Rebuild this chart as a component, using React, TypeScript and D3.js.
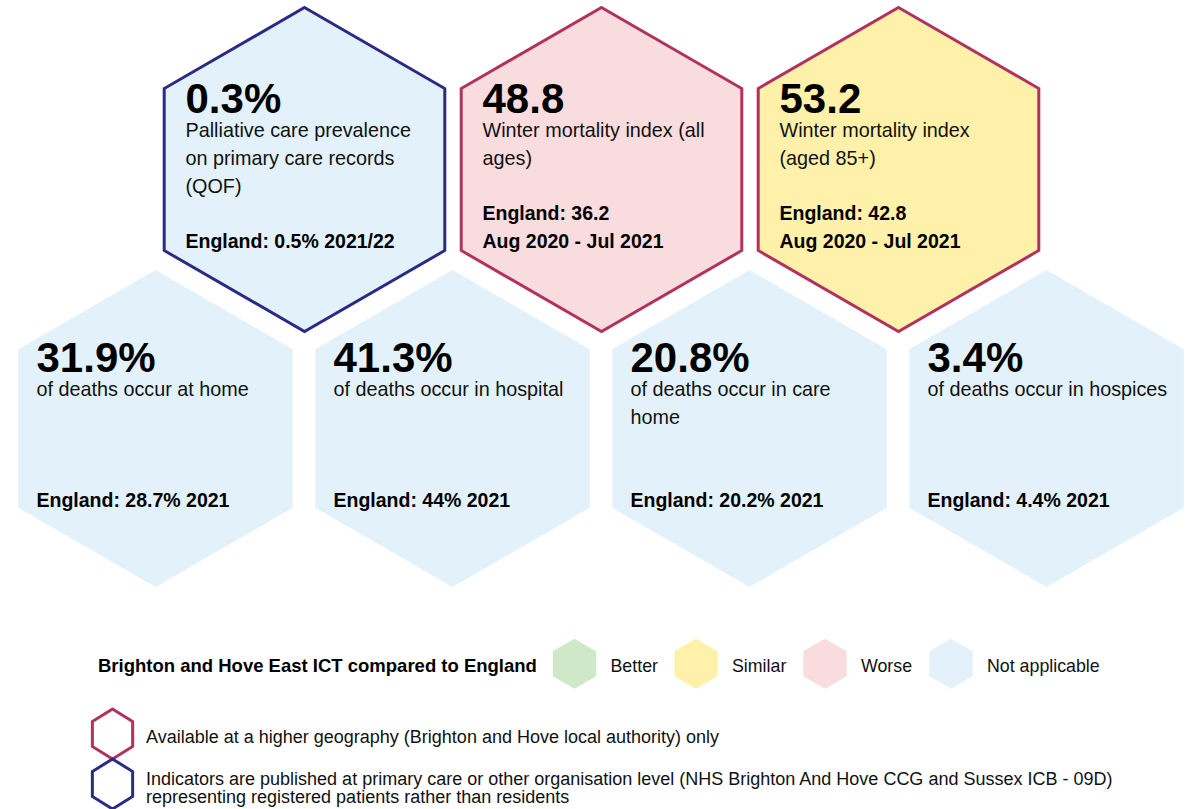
import React, { useEffect, useRef } from "react";
import * as d3 from "d3";

// Top row indicators (outlined hexagons)
const topValues = ["0.3%", "48.8", "53.2"];
const topDescriptions = [
  ["Palliative care prevalence", "on primary care records", "(QOF)"],
  ["Winter mortality index (all", "ages)"],
  ["Winter mortality index", "(aged 85+)"],
];
const topEngland = [
  ["England: 0.5% 2021/22"],
  ["England: 36.2", "Aug 2020 - Jul 2021"],
  ["England: 42.8", "Aug 2020 - Jul 2021"],
];
const topStatus = ["Not applicable", "Worse", "Similar"];
const topOutline = ["practice", "higher", "higher"];

// Bottom row indicators
const bottomValues = ["31.9%", "41.3%", "20.8%", "3.4%"];
const bottomDescriptions = [
  ["of deaths occur at home"],
  ["of deaths occur in hospital"],
  ["of deaths occur in care", "home"],
  ["of deaths occur in hospices"],
];
const bottomEngland = [
  ["England: 28.7% 2021"],
  ["England: 44% 2021"],
  ["England: 20.2% 2021"],
  ["England: 4.4% 2021"],
];
const bottomStatus = ["Not applicable", "Not applicable", "Not applicable", "Not applicable"];

// Legend
const legendTitle = "Brighton and Hove East ICT compared to England";
const legendStatus = ["Better", "Similar", "Worse", "Not applicable"];
const outlineKeys = ["higher", "practice"];
const outlineLabels = [
  ["Available at a higher geography (Brighton and Hove local authority) only"],
  [
    "Indicators are published at primary care or other organisation level (NHS Brighton And Hove CCG and Sussex ICB - 09D)",
    "representing registered patients rather than residents",
  ],
];

const FONT = "'Liberation Sans', Arial, sans-serif";

const hexPoints = (cx, cy, r, squash = 1) =>
  d3.range(6).map((i) => {
    const a = (Math.PI / 3) * i - Math.PI / 2;
    return [cx + r * Math.cos(a) * squash, cy + r * Math.sin(a)];
  });

const hexLine = d3.line().curve(d3.curveLinearClosed);

const App = () => {
  const chartRef = useRef(null);

  useEffect(() => {
    document.body.style.margin = "0";
    drawChart();
  }, []);

  const drawChart = () => {
    const width = 1191;
    const height = 809;

    d3.select(chartRef.current).select("svg").remove();

    const svg = d3
      .select(chartRef.current)
      .append("svg")
      .attr("width", width)
      .attr("height", height)
      .style("display", "block")
      .style("font-family", FONT);

    const fillScale = d3
      .scaleOrdinal()
      .domain(legendStatus)
      .range(["#cfe8c8", "#fff1a9", "#f9dcde", "#e3f2fa"]);

    const strokeScale = d3
      .scaleOrdinal()
      .domain(outlineKeys)
      .range(["#b2325f", "#2d2a86"]);

    // column positions of the honeycomb
    const x = d3.scaleLinear().domain([0, 3]).range([155.5, 1046.5]);
    const topY = 169.5;
    const bottomY = 428.5;

    const drawText = (g, cx, cy, value, desc, eng) => {
      const tx = cx - 119;
      g.append("text")
        .attr("x", tx)
        .attr("y", cy - 57)
        .style("font-size", "42px")
        .style("font-weight", "bold")
        .attr("fill", "#000")
        .text(value);

      g.selectAll(".desc")
        .data(desc)
        .enter()
        .append("text")
        .attr("x", tx)
        .attr("y", (d, i) => cy - 32.5 + i * 28)
        .style("font-size", "19.8px")
        .attr("fill", "#111")
        .text((d) => d);

      g.selectAll(".eng")
        .data(eng)
        .enter()
        .append("text")
        .attr("x", tx)
        .attr("y", (d, i) => cy + 78 - (eng.length - 1 - i) * 28)
        .style("font-size", "19.5px")
        .style("font-weight", "bold")
        .attr("fill", "#000")
        .text((d) => d);
    };

    // Bottom row
    bottomValues.forEach((v, i) => {
      const g = svg.append("g");
      const cx = x(i);
      g.append("path")
        .attr("d", hexLine(hexPoints(cx, bottomY, 158.5)))
        .attr("fill", fillScale(bottomStatus[i]));
      drawText(g, cx, bottomY, v, bottomDescriptions[i], bottomEngland[i]);
    });

    // Top row
    topValues.forEach((v, i) => {
      const g = svg.append("g");
      const cx = x(i + 0.5) + 0.5;
      g.append("path")
        .attr("d", hexLine(hexPoints(cx, topY, 162)))
        .attr("fill", fillScale(topStatus[i]))
        .attr("stroke", strokeScale(topOutline[i]))
        .attr("stroke-width", 3)
        .attr("stroke-linejoin", "miter");
      drawText(g, cx, topY, v, topDescriptions[i], topEngland[i]);
    });

    // Status legend
    const legend = svg.append("g");
    legend
      .append("text")
      .attr("x", 98)
      .attr("y", 672)
      .style("font-size", "18.5px")
      .style("font-weight", "bold")
      .attr("fill", "#000")
      .text(legendTitle);

    const swatchX = [574.5, 696, 825, 951];
    legendStatus.forEach((s, i) => {
      legend
        .append("path")
        .attr("d", hexLine(hexPoints(swatchX[i], 663.8, 25)))
        .attr("fill", fillScale(s));
      legend
        .append("text")
        .attr("x", swatchX[i] + 36)
        .attr("y", 672)
        .style("font-size", "17.8px")
        .attr("fill", "#111")
        .text(s);
    });

    // Outline legend
    const outlineY = [734, 784];
    outlineKeys.forEach((k, i) => {
      legend
        .append("path")
        .attr("d", hexLine(hexPoints(112.5, outlineY[i], 25, 0.93)))
        .attr("fill", "none")
        .attr("stroke", strokeScale(k))
        .attr("stroke-width", 3);
    });

    const labelY = [743, 785];
    outlineLabels.forEach((lines, i) => {
      legend
        .selectAll(`.ol${i}`)
        .data(lines)
        .enter()
        .append("text")
        .attr("x", 146)
        .attr("y", (d, j) => labelY[i] + j * 18)
        .style("font-size", "18px")
        .attr("fill", "#111")
        .text((d) => d);
    });
  };

  return <div ref={chartRef}></div>;
};

export default App;
